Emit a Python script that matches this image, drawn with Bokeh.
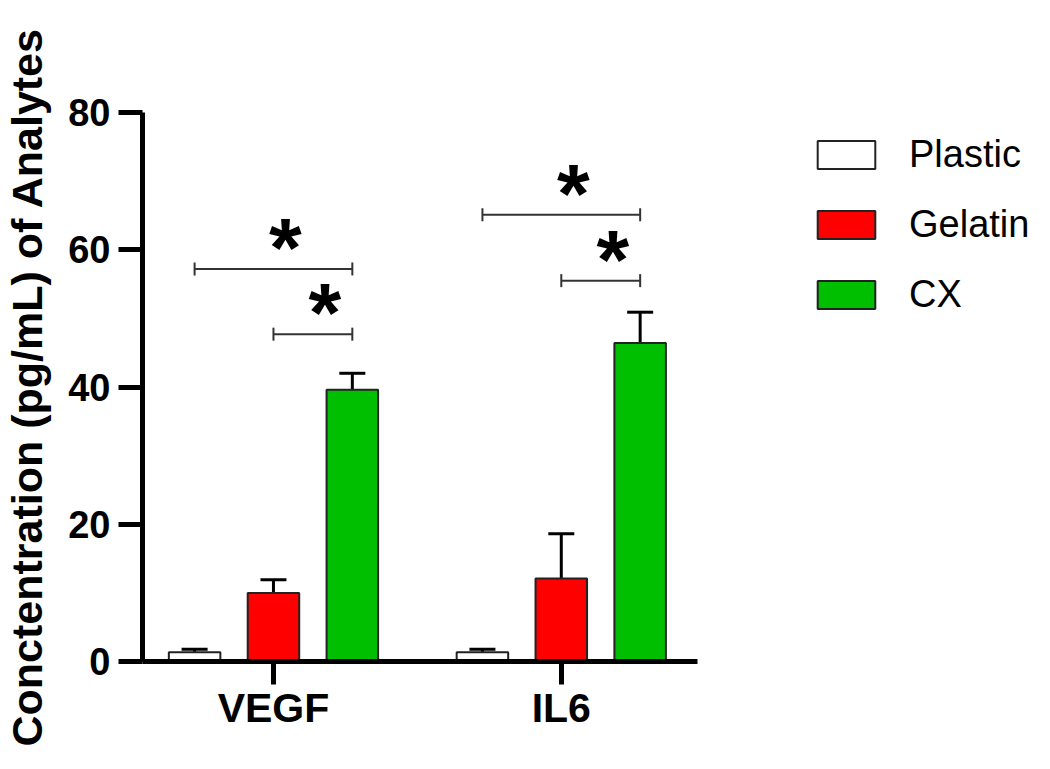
from bokeh.plotting import figure
from bokeh.models import (ColumnDataSource, Whisker, TeeHead, Legend, LegendItem,
                          FixedTicker, Range1d)
from bokeh.core.properties import value
from bokeh.embed import file_html
from bokeh.resources import INLINE

# ---- data ----
analytes = ["VEGF", "IL6"]
substrates = ["Plastic", "Gelatin", "CX"]
plastic_mean = [1.35, 1.35]
plastic_sem = [0.45, 0.45]
gelatin_mean = [10.0, 12.1]
gelatin_sem = [1.9, 6.5]
cx_mean = [39.6, 46.4]
cx_sem = [2.4, 4.5]
y_ticks = [0, 20, 40, 60, 80]
# significance brackets: (analyte index, from substrate, to substrate, level)
sig_analyte = [0, 0, 1, 1]
sig_from = ["Plastic", "Gelatin", "Plastic", "Gelatin"]
sig_to = ["CX", "CX", "CX", "CX"]
sig_level = [57.2, 47.7, 65.1, 55.5]
sig_label = ["*", "*", "*", "*"]

colors = {"Plastic": "#FFFFFF", "Gelatin": "#FF0000", "CX": "#00BF00"}
means = {"Plastic": plastic_mean, "Gelatin": gelatin_mean, "CX": cx_mean}
sems = {"Plastic": plastic_sem, "Gelatin": gelatin_sem, "CX": cx_sem}
offset = {"Plastic": -0.274, "Gelatin": 0.0, "CX": 0.274}
BAR_W = 0.179

FONT = "Liberation Sans"

# layout: axis spans X0..X1 over AXIS_PX pixels; frame extends right to hold legend
X0, X1 = -0.455, 1.472
AXIS_PX = 559
W, H = 1034, 753
LEFT, TOP, BOTTOM = 135, 112, 92
frame_w = W - LEFT
x_end = X0 + frame_w * (X1 - X0) / AXIS_PX

p = figure(width=W, height=H, output_backend="svg", toolbar_location=None,
           x_range=Range1d(X0, x_end), y_range=Range1d(0, 80),
           min_border_left=LEFT, min_border_right=0, min_border_top=TOP,
           min_border_bottom=BOTTOM)
p.outline_line_color = None
p.grid.visible = False
p.background_fill_color = "white"
p.border_fill_color = "white"

renderers = {}
for s in substrates:
    xs = [i + offset[s] for i in range(len(analytes))]
    src = ColumnDataSource(dict(x=xs, top=means[s],
                                upper=[m + e for m, e in zip(means[s], sems[s])]))
    r = p.vbar(x="x", top="top", width=BAR_W, source=src, fill_color=colors[s],
               line_color="#222222", line_width=2)
    renderers[s] = r
    w = Whisker(source=src, base="x", lower="top", upper="upper",
                line_color="black", line_width=3,
                upper_head=TeeHead(size=26, line_width=3, line_color="black"),
                lower_head=None)
    p.add_layout(w)

# significance brackets
bx0 = [a + offset[f] for a, f in zip(sig_analyte, sig_from)]
bx1 = [a + offset[t] for a, t in zip(sig_analyte, sig_to)]
bsrc = ColumnDataSource(dict(y=sig_level, x0=bx0, x1=bx1,
                             xm=[(a + b) / 2 for a, b in zip(bx0, bx1)], t=sig_label))
br = Whisker(source=bsrc, base="y", lower="x0", upper="x1", dimension="width",
             line_color="#333333", line_width=2,
             upper_head=TeeHead(size=13, line_width=2, line_color="#333333"),
             lower_head=TeeHead(size=13, line_width=2, line_color="#333333"))
p.add_layout(br)
p.text(x="xm", y="y", text="t", source=bsrc, text_font=value(FONT),
       text_font_style="bold", text_font_size="84px", text_align="center",
       text_baseline="middle", x_offset=12, y_offset=-21, text_color="black")

# axes
p.yaxis.ticker = FixedTicker(ticks=y_ticks)
p.xaxis.ticker = FixedTicker(ticks=list(range(len(analytes))))
p.xaxis.major_label_overrides = {i: a for i, a in enumerate(analytes)}
p.xaxis.bounds = (X0, X1)
for ax in (p.xaxis[0], p.yaxis[0]):
    ax.axis_line_width = 5
    ax.axis_line_color = "black"
    ax.major_tick_line_width = 5
    ax.major_tick_line_color = "black"
    ax.major_tick_in = 0
    ax.minor_tick_line_color = None
    ax.major_label_text_font = FONT
    ax.major_label_text_font_style = "bold"
    ax.major_label_text_color = "black"
p.yaxis.major_tick_out = 24
p.xaxis.major_tick_out = 23
p.yaxis.major_label_text_font_size = "38px"
p.xaxis.major_label_text_font_size = "41px"
p.yaxis.major_label_standoff = 8
p.xaxis.major_label_standoff = 0
p.yaxis.axis_label = "Conctentration (pg/mL) of Analytes"
p.yaxis.axis_label_text_font = FONT
p.yaxis.axis_label_text_font_style = "bold"
p.yaxis.axis_label_text_font_size = "43px"
p.yaxis.axis_label_text_color = "black"
p.yaxis.axis_label_standoff = 14

legend = Legend(items=[LegendItem(label=s, renderers=[renderers[s]]) for s in substrates],
                location=(668, 345), border_line_color=None, background_fill_alpha=0,
                padding=0, margin=0, glyph_width=72, glyph_height=35,
                label_standoff=27, spacing=27, label_text_font=FONT,
                label_text_font_size="38px", label_text_color="black")
p.add_layout(legend)

open("out.html", "w").write(file_html(p, INLINE))
